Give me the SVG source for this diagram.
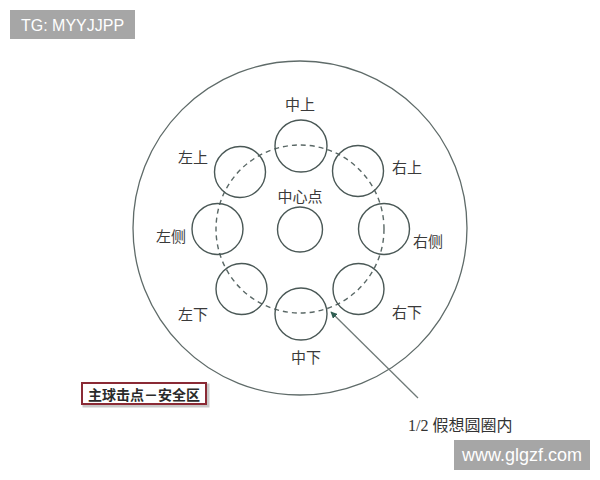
<svg xmlns="http://www.w3.org/2000/svg" width="600" height="480" viewBox="0 0 600 480">
<defs>
<style>
.c{fill:none;stroke:#4a5856;stroke-width:1.4}
.lbl{font-family:"Liberation Serif","Noto Sans CJK SC",serif;font-size:15px;fill:#3a3a3a;text-anchor:middle;dominant-baseline:central}
.wm{font-family:"Liberation Sans","Noto Sans",sans-serif;fill:#ffffff}
</style>
<marker id="ah" viewBox="0 0 10 10" refX="9" refY="5" markerWidth="7" markerHeight="7" orient="auto" markerUnits="userSpaceOnUse">
<path d="M0,0 L10,5 L0,10 z" fill="#2f5e52"/>
</marker>
</defs>
<rect width="600" height="480" fill="#ffffff"/>
<g id="outer"><circle cx="300" cy="228" r="167" fill="none" stroke="#5f6b69" stroke-width="1.3"/></g>
<g id="ring"><circle cx="300" cy="229" r="84" fill="none" stroke="#5a6866" stroke-width="1.4" stroke-dasharray="5 4"/></g>
<g id="center"><circle class="c" cx="300" cy="229.5" r="22.5"/><text class="lbl" x="300" y="197">中心点</text></g>
<g id="top"><circle class="c" cx="301" cy="146" r="26"/><text class="lbl" x="300" y="105">中上</text></g>
<g id="topleft"><circle class="c" cx="240" cy="172" r="25.5"/><text class="lbl" x="193" y="158">左上</text></g>
<g id="topright"><circle class="c" cx="358" cy="171" r="25.5"/><text class="lbl" x="407" y="168">右上</text></g>
<g id="left"><circle class="c" cx="217.5" cy="229" r="25.5"/><text class="lbl" x="171" y="237">左侧</text></g>
<g id="right"><circle class="c" cx="384" cy="229" r="25.5"/><text class="lbl" x="428" y="242">右侧</text></g>
<g id="bottomleft"><circle class="c" cx="241.5" cy="289" r="25.5"/><text class="lbl" x="193" y="315">左下</text></g>
<g id="bottom"><circle class="c" cx="301" cy="314" r="26"/><text class="lbl" x="306" y="358">中下</text></g>
<g id="bottomright"><circle class="c" cx="358.5" cy="289" r="25.5"/><text class="lbl" x="407" y="313">右下</text></g>
<g id="connectors"><line x1="418" y1="398" x2="331" y2="312" stroke="#6f7a78" stroke-width="1.3" marker-end="url(#ah)"/></g>
<g id="note"><text x="408" y="425" font-family="Liberation Serif,'Noto Sans CJK SC',serif" font-size="16" fill="#333" dominant-baseline="central">1/2 假想圆圈内</text></g>
<g id="safe">
<rect x="83" y="384" width="124" height="21" fill="#ffffff" stroke="#c9c9c9" stroke-width="3" transform="translate(1,1)"/>
<rect x="82" y="383" width="124" height="21" fill="#ffffff" stroke="#8a2a35" stroke-width="2"/>
<text x="144" y="394" font-family="'Noto Sans CJK SC',sans-serif" font-size="14" font-weight="bold" fill="#2a2a2a" text-anchor="middle" dominant-baseline="central">主球击点－安全区</text>
</g>
<g id="tg"><rect x="10" y="10" width="125" height="29" fill="#a6a6a6"/><text class="wm" x="72.5" y="25" font-size="16" text-anchor="middle" dominant-baseline="central">TG: MYYJJPP</text></g>
<g id="site"><rect x="454" y="440" width="136" height="30" fill="#a6a6a6"/><text class="wm" x="522" y="455" font-size="18" text-anchor="middle" dominant-baseline="central">www.glgzf.com</text></g>
</svg>
